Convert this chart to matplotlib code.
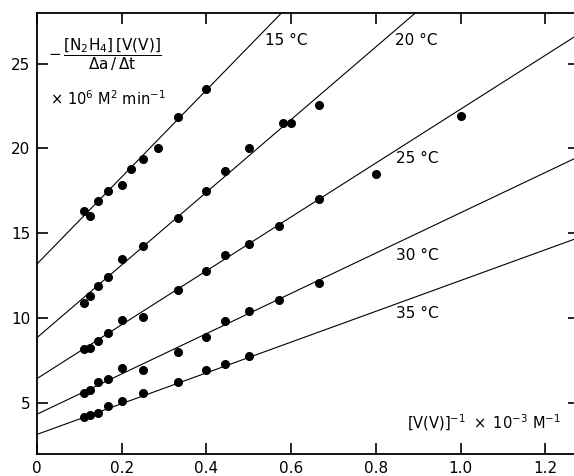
import numpy as np
import matplotlib
matplotlib.use("Agg")
import matplotlib.pyplot as plt

plt.rcParams['font.family'] = ['DejaVu Sans']
plt.rcParams['mathtext.default'] = 'regular'

# data: x = 1/[V(V)] (x 10^-3 M^-1)
x15 = [0.111, 0.125, 0.143, 0.167, 0.2, 0.222, 0.25, 0.286, 0.333, 0.4]
y15 = [16.3, 16.0, 16.9, 17.5, 17.85, 18.8, 19.4, 20.0, 21.85, 23.5]

x20 = [0.111, 0.125, 0.143, 0.167, 0.2, 0.25, 0.333, 0.4, 0.444, 0.5, 0.58, 0.6, 0.667]
y20 = [10.9, 11.3, 11.9, 12.45, 13.5, 14.25, 15.9, 17.5, 18.7, 20.0, 21.5, 21.5, 22.55]

x25 = [0.111, 0.125, 0.143, 0.167, 0.2, 0.25, 0.333, 0.4, 0.444, 0.5, 0.571, 0.667, 0.8, 1.0]
y25 = [8.2, 8.25, 8.65, 9.15, 9.9, 10.1, 11.65, 12.8, 13.7, 14.35, 15.45, 17.05, 18.5, 21.9]

x30 = [0.111, 0.125, 0.143, 0.167, 0.2, 0.25, 0.333, 0.4, 0.444, 0.5, 0.571, 0.667]
y30 = [5.6, 5.75, 6.25, 6.4, 7.1, 6.95, 8.0, 8.9, 9.85, 10.45, 11.05, 12.1]

x35 = [0.111, 0.125, 0.143, 0.167, 0.2, 0.25, 0.333, 0.4, 0.444, 0.5]
y35 = [4.2, 4.3, 4.45, 4.85, 5.1, 5.6, 6.25, 6.95, 7.3, 7.75]

# fitted straight lines (intercept, slope) as drawn in the figure
temps = ['15', '20', '25', '30', '35']
intercepts = [13.2, 8.86, 6.45, 4.35, 3.16]
slopes = [25.6, 21.4, 15.86, 11.86, 9.06]
label_x = [0.588, 0.895, 0.897, 0.897, 0.897]
label_y = [26.35, 26.35, 19.4, 13.7, 10.3]

fig = plt.figure(figsize=(5.74, 4.76), dpi=100)
ax = fig.add_axes([0.0645, 0.046, 0.9355, 0.9275])

xs = [x15, x20, x25, x30, x35]
ys = [y15, y20, y25, y30, y35]
xl = np.array([0, 1.3])
for i in range(len(temps)):
    ax.plot(xl, intercepts[i] + slopes[i]*xl, color='black', lw=0.8)
    ax.plot(xs[i], ys[i], 'o', color='black', ms=5.5)
    ax.text(label_x[i], label_y[i], temps[i] + ' °C', fontsize=11,
            ha='center', va='center')

ax.set_xlim(0, 1.268)
ax.set_ylim(2, 28)
ax.set_xticks([0, 0.2, 0.4, 0.6, 0.8, 1.0, 1.2])
ax.set_xticklabels(['0', '0.2', '0.4', '0.6', '0.8', '1.0', '1.2'])
ax.set_yticks([5, 10, 15, 20, 25])
ax.tick_params(direction='in', length=8, width=1.2, labelsize=11,
               top=True, right=False, pad=5)
for s in ['left', 'bottom', 'top']:
    ax.spines[s].set_linewidth(1.3)
ax.spines['right'].set_visible(False)

# short ticks on the right, no spine
ax2 = ax.twinx()
ax2.set_ylim(2, 28)
ax2.set_yticks([5, 10, 15, 20, 25])
ax2.tick_params(direction='in', length=4, width=1.2, labelright=False)
for s in ['left', 'bottom', 'top', 'right']:
    ax2.spines[s].set_visible(False)

ax.text(0.026, 25.55,
        r'$-\,\dfrac{[N_2H_4]\,[V(V)]}{\Delta a\,/\,\Delta t}$',
        fontsize=11, ha='left', va='center')
ax.text(0.031, 22.94, r'$\times\ 10^6\ M^2\ min^{-1}$',
        fontsize=10.5, ha='left', va='center')
ax.text(1.236, 3.85, r'$[V(V)]^{-1}\ \times\ 10^{-3}\ M^{-1}$',
        fontsize=10.5, ha='right', va='center')

fig.savefig('out.png', dpi=100)
